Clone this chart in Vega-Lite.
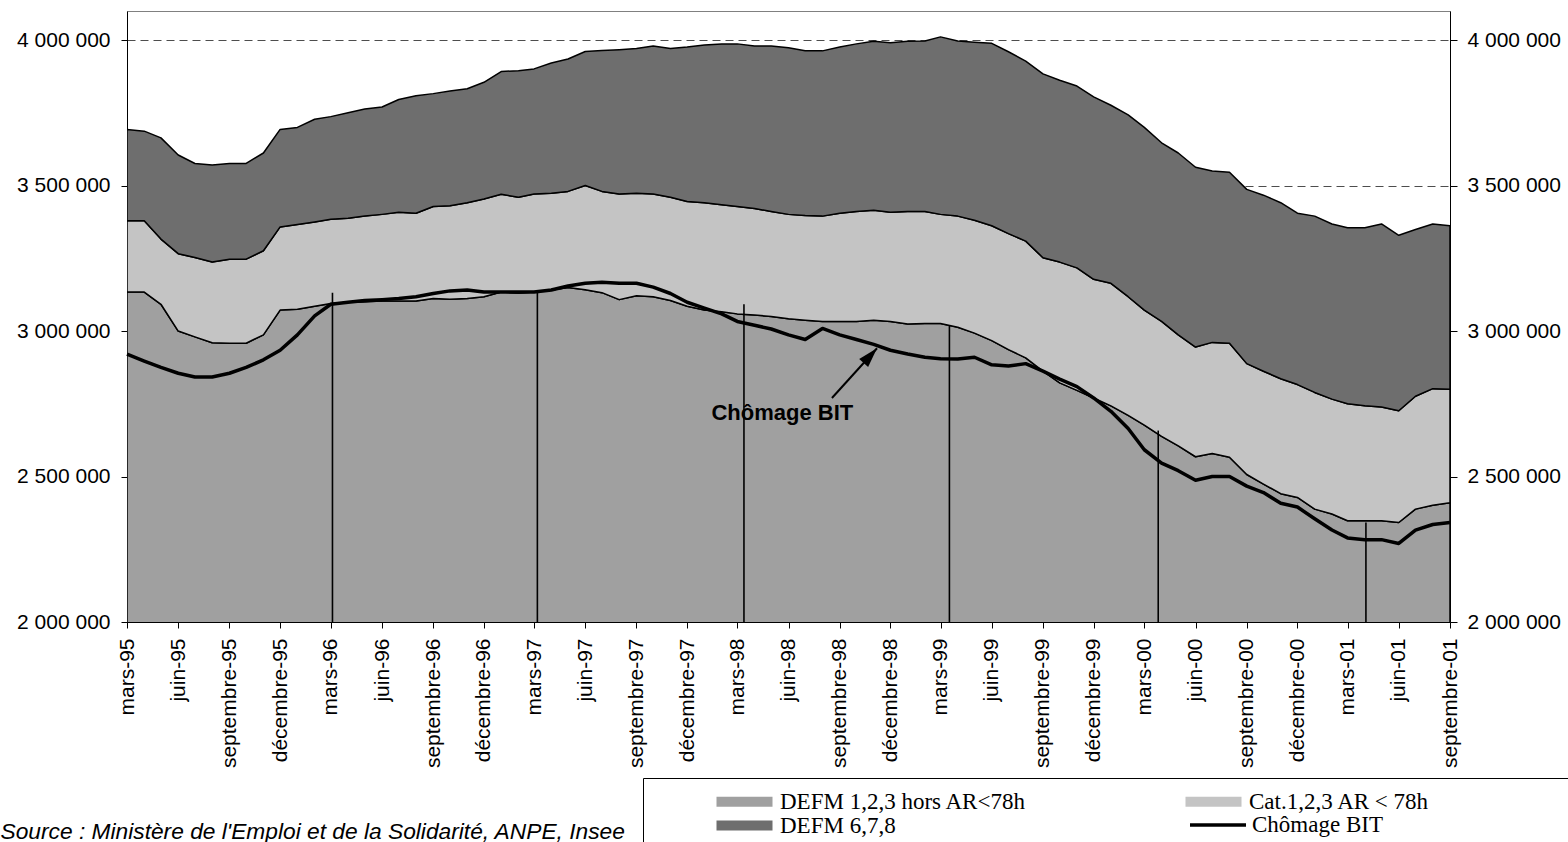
{
  "$schema": "https://vega.github.io/schema/vega-lite/v6.json",
  "width": 1323,
  "height": 611,
  "autosize": {"type": "none"},
  "padding": {"left": 127, "top": 11, "right": 118, "bottom": 220},
  "background": "white",
  "config": {
    "view": {"stroke": "#808080", "strokeWidth": 1},
    "font": "Liberation Sans"
  },
  "datasets": {
    "aires": [
      {"d":"1995-03-01","serie":"DEFM 1,2,3 hors AR<78h","rang":1,"v":3134000},
      {"d":"1995-04-01","serie":"DEFM 1,2,3 hors AR<78h","rang":1,"v":3134000},
      {"d":"1995-05-01","serie":"DEFM 1,2,3 hors AR<78h","rang":1,"v":3092000},
      {"d":"1995-06-01","serie":"DEFM 1,2,3 hors AR<78h","rang":1,"v":3000000},
      {"d":"1995-07-01","serie":"DEFM 1,2,3 hors AR<78h","rang":1,"v":2980000},
      {"d":"1995-08-01","serie":"DEFM 1,2,3 hors AR<78h","rang":1,"v":2960000},
      {"d":"1995-09-01","serie":"DEFM 1,2,3 hors AR<78h","rang":1,"v":2958000},
      {"d":"1995-10-01","serie":"DEFM 1,2,3 hors AR<78h","rang":1,"v":2958000},
      {"d":"1995-11-01","serie":"DEFM 1,2,3 hors AR<78h","rang":1,"v":2987000},
      {"d":"1995-12-01","serie":"DEFM 1,2,3 hors AR<78h","rang":1,"v":3072000},
      {"d":"1996-01-01","serie":"DEFM 1,2,3 hors AR<78h","rang":1,"v":3075000},
      {"d":"1996-02-01","serie":"DEFM 1,2,3 hors AR<78h","rang":1,"v":3085000},
      {"d":"1996-03-01","serie":"DEFM 1,2,3 hors AR<78h","rang":1,"v":3095000},
      {"d":"1996-04-01","serie":"DEFM 1,2,3 hors AR<78h","rang":1,"v":3099000},
      {"d":"1996-05-01","serie":"DEFM 1,2,3 hors AR<78h","rang":1,"v":3101000},
      {"d":"1996-06-01","serie":"DEFM 1,2,3 hors AR<78h","rang":1,"v":3103000},
      {"d":"1996-07-01","serie":"DEFM 1,2,3 hors AR<78h","rang":1,"v":3103000},
      {"d":"1996-08-01","serie":"DEFM 1,2,3 hors AR<78h","rang":1,"v":3103000},
      {"d":"1996-09-01","serie":"DEFM 1,2,3 hors AR<78h","rang":1,"v":3112000},
      {"d":"1996-10-01","serie":"DEFM 1,2,3 hors AR<78h","rang":1,"v":3109000},
      {"d":"1996-11-01","serie":"DEFM 1,2,3 hors AR<78h","rang":1,"v":3112000},
      {"d":"1996-12-01","serie":"DEFM 1,2,3 hors AR<78h","rang":1,"v":3118000},
      {"d":"1997-01-01","serie":"DEFM 1,2,3 hors AR<78h","rang":1,"v":3134000},
      {"d":"1997-02-01","serie":"DEFM 1,2,3 hors AR<78h","rang":1,"v":3131000},
      {"d":"1997-03-01","serie":"DEFM 1,2,3 hors AR<78h","rang":1,"v":3134000},
      {"d":"1997-04-01","serie":"DEFM 1,2,3 hors AR<78h","rang":1,"v":3141000},
      {"d":"1997-05-01","serie":"DEFM 1,2,3 hors AR<78h","rang":1,"v":3150000},
      {"d":"1997-06-01","serie":"DEFM 1,2,3 hors AR<78h","rang":1,"v":3142000},
      {"d":"1997-07-01","serie":"DEFM 1,2,3 hors AR<78h","rang":1,"v":3132000},
      {"d":"1997-08-01","serie":"DEFM 1,2,3 hors AR<78h","rang":1,"v":3108000},
      {"d":"1997-09-01","serie":"DEFM 1,2,3 hors AR<78h","rang":1,"v":3121000},
      {"d":"1997-10-01","serie":"DEFM 1,2,3 hors AR<78h","rang":1,"v":3118000},
      {"d":"1997-11-01","serie":"DEFM 1,2,3 hors AR<78h","rang":1,"v":3105000},
      {"d":"1997-12-01","serie":"DEFM 1,2,3 hors AR<78h","rang":1,"v":3085000},
      {"d":"1998-01-01","serie":"DEFM 1,2,3 hors AR<78h","rang":1,"v":3072000},
      {"d":"1998-02-01","serie":"DEFM 1,2,3 hors AR<78h","rang":1,"v":3066000},
      {"d":"1998-03-01","serie":"DEFM 1,2,3 hors AR<78h","rang":1,"v":3059000},
      {"d":"1998-04-01","serie":"DEFM 1,2,3 hors AR<78h","rang":1,"v":3055000},
      {"d":"1998-05-01","serie":"DEFM 1,2,3 hors AR<78h","rang":1,"v":3050000},
      {"d":"1998-06-01","serie":"DEFM 1,2,3 hors AR<78h","rang":1,"v":3042000},
      {"d":"1998-07-01","serie":"DEFM 1,2,3 hors AR<78h","rang":1,"v":3037000},
      {"d":"1998-08-01","serie":"DEFM 1,2,3 hors AR<78h","rang":1,"v":3033000},
      {"d":"1998-09-01","serie":"DEFM 1,2,3 hors AR<78h","rang":1,"v":3033000},
      {"d":"1998-10-01","serie":"DEFM 1,2,3 hors AR<78h","rang":1,"v":3033000},
      {"d":"1998-11-01","serie":"DEFM 1,2,3 hors AR<78h","rang":1,"v":3037000},
      {"d":"1998-12-01","serie":"DEFM 1,2,3 hors AR<78h","rang":1,"v":3033000},
      {"d":"1999-01-01","serie":"DEFM 1,2,3 hors AR<78h","rang":1,"v":3024000},
      {"d":"1999-02-01","serie":"DEFM 1,2,3 hors AR<78h","rang":1,"v":3026000},
      {"d":"1999-03-01","serie":"DEFM 1,2,3 hors AR<78h","rang":1,"v":3026000},
      {"d":"1999-04-01","serie":"DEFM 1,2,3 hors AR<78h","rang":1,"v":3013000},
      {"d":"1999-05-01","serie":"DEFM 1,2,3 hors AR<78h","rang":1,"v":2993000},
      {"d":"1999-06-01","serie":"DEFM 1,2,3 hors AR<78h","rang":1,"v":2967000},
      {"d":"1999-07-01","serie":"DEFM 1,2,3 hors AR<78h","rang":1,"v":2936000},
      {"d":"1999-08-01","serie":"DEFM 1,2,3 hors AR<78h","rang":1,"v":2908000},
      {"d":"1999-09-01","serie":"DEFM 1,2,3 hors AR<78h","rang":1,"v":2862000},
      {"d":"1999-10-01","serie":"DEFM 1,2,3 hors AR<78h","rang":1,"v":2822000},
      {"d":"1999-11-01","serie":"DEFM 1,2,3 hors AR<78h","rang":1,"v":2796000},
      {"d":"1999-12-01","serie":"DEFM 1,2,3 hors AR<78h","rang":1,"v":2770000},
      {"d":"2000-01-01","serie":"DEFM 1,2,3 hors AR<78h","rang":1,"v":2743000},
      {"d":"2000-02-01","serie":"DEFM 1,2,3 hors AR<78h","rang":1,"v":2710000},
      {"d":"2000-03-01","serie":"DEFM 1,2,3 hors AR<78h","rang":1,"v":2677000},
      {"d":"2000-04-01","serie":"DEFM 1,2,3 hors AR<78h","rang":1,"v":2638000},
      {"d":"2000-05-01","serie":"DEFM 1,2,3 hors AR<78h","rang":1,"v":2605000},
      {"d":"2000-06-01","serie":"DEFM 1,2,3 hors AR<78h","rang":1,"v":2568000},
      {"d":"2000-07-01","serie":"DEFM 1,2,3 hors AR<78h","rang":1,"v":2579000},
      {"d":"2000-08-01","serie":"DEFM 1,2,3 hors AR<78h","rang":1,"v":2566000},
      {"d":"2000-09-01","serie":"DEFM 1,2,3 hors AR<78h","rang":1,"v":2507000},
      {"d":"2000-10-01","serie":"DEFM 1,2,3 hors AR<78h","rang":1,"v":2474000},
      {"d":"2000-11-01","serie":"DEFM 1,2,3 hors AR<78h","rang":1,"v":2441000},
      {"d":"2000-12-01","serie":"DEFM 1,2,3 hors AR<78h","rang":1,"v":2428000},
      {"d":"2001-01-01","serie":"DEFM 1,2,3 hors AR<78h","rang":1,"v":2388000},
      {"d":"2001-02-01","serie":"DEFM 1,2,3 hors AR<78h","rang":1,"v":2371000},
      {"d":"2001-03-01","serie":"DEFM 1,2,3 hors AR<78h","rang":1,"v":2348000},
      {"d":"2001-04-01","serie":"DEFM 1,2,3 hors AR<78h","rang":1,"v":2348000},
      {"d":"2001-05-01","serie":"DEFM 1,2,3 hors AR<78h","rang":1,"v":2348000},
      {"d":"2001-06-01","serie":"DEFM 1,2,3 hors AR<78h","rang":1,"v":2342000},
      {"d":"2001-07-01","serie":"DEFM 1,2,3 hors AR<78h","rang":1,"v":2388000},
      {"d":"2001-08-01","serie":"DEFM 1,2,3 hors AR<78h","rang":1,"v":2401000},
      {"d":"2001-09-01","serie":"DEFM 1,2,3 hors AR<78h","rang":1,"v":2410000},

      {"d":"1995-03-01","serie":"Cat.1,2,3 AR < 78h","rang":2,"v":245000},
      {"d":"1995-04-01","serie":"Cat.1,2,3 AR < 78h","rang":2,"v":245000},
      {"d":"1995-05-01","serie":"Cat.1,2,3 AR < 78h","rang":2,"v":224000},
      {"d":"1995-06-01","serie":"Cat.1,2,3 AR < 78h","rang":2,"v":266000},
      {"d":"1995-07-01","serie":"Cat.1,2,3 AR < 78h","rang":2,"v":273000},
      {"d":"1995-08-01","serie":"Cat.1,2,3 AR < 78h","rang":2,"v":277000},
      {"d":"1995-09-01","serie":"Cat.1,2,3 AR < 78h","rang":2,"v":289000},
      {"d":"1995-10-01","serie":"Cat.1,2,3 AR < 78h","rang":2,"v":289000},
      {"d":"1995-11-01","serie":"Cat.1,2,3 AR < 78h","rang":2,"v":289000},
      {"d":"1995-12-01","serie":"Cat.1,2,3 AR < 78h","rang":2,"v":286000},
      {"d":"1996-01-01","serie":"Cat.1,2,3 AR < 78h","rang":2,"v":291000},
      {"d":"1996-02-01","serie":"Cat.1,2,3 AR < 78h","rang":2,"v":290000},
      {"d":"1996-03-01","serie":"Cat.1,2,3 AR < 78h","rang":2,"v":289000},
      {"d":"1996-04-01","serie":"Cat.1,2,3 AR < 78h","rang":2,"v":289000},
      {"d":"1996-05-01","serie":"Cat.1,2,3 AR < 78h","rang":2,"v":294000},
      {"d":"1996-06-01","serie":"Cat.1,2,3 AR < 78h","rang":2,"v":298000},
      {"d":"1996-07-01","serie":"Cat.1,2,3 AR < 78h","rang":2,"v":305000},
      {"d":"1996-08-01","serie":"Cat.1,2,3 AR < 78h","rang":2,"v":302000},
      {"d":"1996-09-01","serie":"Cat.1,2,3 AR < 78h","rang":2,"v":316000},
      {"d":"1996-10-01","serie":"Cat.1,2,3 AR < 78h","rang":2,"v":322000},
      {"d":"1996-11-01","serie":"Cat.1,2,3 AR < 78h","rang":2,"v":329000},
      {"d":"1996-12-01","serie":"Cat.1,2,3 AR < 78h","rang":2,"v":336000},
      {"d":"1997-01-01","serie":"Cat.1,2,3 AR < 78h","rang":2,"v":336000},
      {"d":"1997-02-01","serie":"Cat.1,2,3 AR < 78h","rang":2,"v":329000},
      {"d":"1997-03-01","serie":"Cat.1,2,3 AR < 78h","rang":2,"v":337000},
      {"d":"1997-04-01","serie":"Cat.1,2,3 AR < 78h","rang":2,"v":333000},
      {"d":"1997-05-01","serie":"Cat.1,2,3 AR < 78h","rang":2,"v":330000},
      {"d":"1997-06-01","serie":"Cat.1,2,3 AR < 78h","rang":2,"v":358000},
      {"d":"1997-07-01","serie":"Cat.1,2,3 AR < 78h","rang":2,"v":348000},
      {"d":"1997-08-01","serie":"Cat.1,2,3 AR < 78h","rang":2,"v":363000},
      {"d":"1997-09-01","serie":"Cat.1,2,3 AR < 78h","rang":2,"v":353000},
      {"d":"1997-10-01","serie":"Cat.1,2,3 AR < 78h","rang":2,"v":353000},
      {"d":"1997-11-01","serie":"Cat.1,2,3 AR < 78h","rang":2,"v":355000},
      {"d":"1997-12-01","serie":"Cat.1,2,3 AR < 78h","rang":2,"v":360000},
      {"d":"1998-01-01","serie":"Cat.1,2,3 AR < 78h","rang":2,"v":369000},
      {"d":"1998-02-01","serie":"Cat.1,2,3 AR < 78h","rang":2,"v":368000},
      {"d":"1998-03-01","serie":"Cat.1,2,3 AR < 78h","rang":2,"v":369000},
      {"d":"1998-04-01","serie":"Cat.1,2,3 AR < 78h","rang":2,"v":366000},
      {"d":"1998-05-01","serie":"Cat.1,2,3 AR < 78h","rang":2,"v":361000},
      {"d":"1998-06-01","serie":"Cat.1,2,3 AR < 78h","rang":2,"v":359000},
      {"d":"1998-07-01","serie":"Cat.1,2,3 AR < 78h","rang":2,"v":360000},
      {"d":"1998-08-01","serie":"Cat.1,2,3 AR < 78h","rang":2,"v":362000},
      {"d":"1998-09-01","serie":"Cat.1,2,3 AR < 78h","rang":2,"v":372000},
      {"d":"1998-10-01","serie":"Cat.1,2,3 AR < 78h","rang":2,"v":378000},
      {"d":"1998-11-01","serie":"Cat.1,2,3 AR < 78h","rang":2,"v":378000},
      {"d":"1998-12-01","serie":"Cat.1,2,3 AR < 78h","rang":2,"v":375000},
      {"d":"1999-01-01","serie":"Cat.1,2,3 AR < 78h","rang":2,"v":387000},
      {"d":"1999-02-01","serie":"Cat.1,2,3 AR < 78h","rang":2,"v":385000},
      {"d":"1999-03-01","serie":"Cat.1,2,3 AR < 78h","rang":2,"v":375000},
      {"d":"1999-04-01","serie":"Cat.1,2,3 AR < 78h","rang":2,"v":382000},
      {"d":"1999-05-01","serie":"Cat.1,2,3 AR < 78h","rang":2,"v":388000},
      {"d":"1999-06-01","serie":"Cat.1,2,3 AR < 78h","rang":2,"v":395000},
      {"d":"1999-07-01","serie":"Cat.1,2,3 AR < 78h","rang":2,"v":399000},
      {"d":"1999-08-01","serie":"Cat.1,2,3 AR < 78h","rang":2,"v":401000},
      {"d":"1999-09-01","serie":"Cat.1,2,3 AR < 78h","rang":2,"v":390000},
      {"d":"1999-10-01","serie":"Cat.1,2,3 AR < 78h","rang":2,"v":415000},
      {"d":"1999-11-01","serie":"Cat.1,2,3 AR < 78h","rang":2,"v":421000},
      {"d":"1999-12-01","serie":"Cat.1,2,3 AR < 78h","rang":2,"v":408000},
      {"d":"2000-01-01","serie":"Cat.1,2,3 AR < 78h","rang":2,"v":421000},
      {"d":"2000-02-01","serie":"Cat.1,2,3 AR < 78h","rang":2,"v":408000},
      {"d":"2000-03-01","serie":"Cat.1,2,3 AR < 78h","rang":2,"v":395000},
      {"d":"2000-04-01","serie":"Cat.1,2,3 AR < 78h","rang":2,"v":395000},
      {"d":"2000-05-01","serie":"Cat.1,2,3 AR < 78h","rang":2,"v":382000},
      {"d":"2000-06-01","serie":"Cat.1,2,3 AR < 78h","rang":2,"v":377000},
      {"d":"2000-07-01","serie":"Cat.1,2,3 AR < 78h","rang":2,"v":382000},
      {"d":"2000-08-01","serie":"Cat.1,2,3 AR < 78h","rang":2,"v":392000},
      {"d":"2000-09-01","serie":"Cat.1,2,3 AR < 78h","rang":2,"v":381000},
      {"d":"2000-10-01","serie":"Cat.1,2,3 AR < 78h","rang":2,"v":388000},
      {"d":"2000-11-01","serie":"Cat.1,2,3 AR < 78h","rang":2,"v":395000},
      {"d":"2000-12-01","serie":"Cat.1,2,3 AR < 78h","rang":2,"v":388000},
      {"d":"2001-01-01","serie":"Cat.1,2,3 AR < 78h","rang":2,"v":401000},
      {"d":"2001-02-01","serie":"Cat.1,2,3 AR < 78h","rang":2,"v":395000},
      {"d":"2001-03-01","serie":"Cat.1,2,3 AR < 78h","rang":2,"v":402000},
      {"d":"2001-04-01","serie":"Cat.1,2,3 AR < 78h","rang":2,"v":395000},
      {"d":"2001-05-01","serie":"Cat.1,2,3 AR < 78h","rang":2,"v":391000},
      {"d":"2001-06-01","serie":"Cat.1,2,3 AR < 78h","rang":2,"v":384000},
      {"d":"2001-07-01","serie":"Cat.1,2,3 AR < 78h","rang":2,"v":388000},
      {"d":"2001-08-01","serie":"Cat.1,2,3 AR < 78h","rang":2,"v":401000},
      {"d":"2001-09-01","serie":"Cat.1,2,3 AR < 78h","rang":2,"v":390000},

      {"d":"1995-03-01","serie":"DEFM 6,7,8","rang":3,"v":314000},
      {"d":"1995-04-01","serie":"DEFM 6,7,8","rang":3,"v":308000},
      {"d":"1995-05-01","serie":"DEFM 6,7,8","rang":3,"v":348000},
      {"d":"1995-06-01","serie":"DEFM 6,7,8","rang":3,"v":339000},
      {"d":"1995-07-01","serie":"DEFM 6,7,8","rang":3,"v":323000},
      {"d":"1995-08-01","serie":"DEFM 6,7,8","rang":3,"v":334000},
      {"d":"1995-09-01","serie":"DEFM 6,7,8","rang":3,"v":329000},
      {"d":"1995-10-01","serie":"DEFM 6,7,8","rang":3,"v":329000},
      {"d":"1995-11-01","serie":"DEFM 6,7,8","rang":3,"v":336000},
      {"d":"1995-12-01","serie":"DEFM 6,7,8","rang":3,"v":335000},
      {"d":"1996-01-01","serie":"DEFM 6,7,8","rang":3,"v":334000},
      {"d":"1996-02-01","serie":"DEFM 6,7,8","rang":3,"v":353000},
      {"d":"1996-03-01","serie":"DEFM 6,7,8","rang":3,"v":353000},
      {"d":"1996-04-01","serie":"DEFM 6,7,8","rang":3,"v":362000},
      {"d":"1996-05-01","serie":"DEFM 6,7,8","rang":3,"v":368000},
      {"d":"1996-06-01","serie":"DEFM 6,7,8","rang":3,"v":369000},
      {"d":"1996-07-01","serie":"DEFM 6,7,8","rang":3,"v":388000},
      {"d":"1996-08-01","serie":"DEFM 6,7,8","rang":3,"v":404000},
      {"d":"1996-09-01","serie":"DEFM 6,7,8","rang":3,"v":388000},
      {"d":"1996-10-01","serie":"DEFM 6,7,8","rang":3,"v":394000},
      {"d":"1996-11-01","serie":"DEFM 6,7,8","rang":3,"v":392000},
      {"d":"1996-12-01","serie":"DEFM 6,7,8","rang":3,"v":401000},
      {"d":"1997-01-01","serie":"DEFM 6,7,8","rang":3,"v":422000},
      {"d":"1997-02-01","serie":"DEFM 6,7,8","rang":3,"v":435000},
      {"d":"1997-03-01","serie":"DEFM 6,7,8","rang":3,"v":430000},
      {"d":"1997-04-01","serie":"DEFM 6,7,8","rang":3,"v":447000},
      {"d":"1997-05-01","serie":"DEFM 6,7,8","rang":3,"v":455000},
      {"d":"1997-06-01","serie":"DEFM 6,7,8","rang":3,"v":461000},
      {"d":"1997-07-01","serie":"DEFM 6,7,8","rang":3,"v":484000},
      {"d":"1997-08-01","serie":"DEFM 6,7,8","rang":3,"v":496000},
      {"d":"1997-09-01","serie":"DEFM 6,7,8","rang":3,"v":497000},
      {"d":"1997-10-01","serie":"DEFM 6,7,8","rang":3,"v":509000},
      {"d":"1997-11-01","serie":"DEFM 6,7,8","rang":3,"v":511000},
      {"d":"1997-12-01","serie":"DEFM 6,7,8","rang":3,"v":531000},
      {"d":"1998-01-01","serie":"DEFM 6,7,8","rang":3,"v":542000},
      {"d":"1998-02-01","serie":"DEFM 6,7,8","rang":3,"v":553000},
      {"d":"1998-03-01","serie":"DEFM 6,7,8","rang":3,"v":559000},
      {"d":"1998-04-01","serie":"DEFM 6,7,8","rang":3,"v":559000},
      {"d":"1998-05-01","serie":"DEFM 6,7,8","rang":3,"v":569000},
      {"d":"1998-06-01","serie":"DEFM 6,7,8","rang":3,"v":573000},
      {"d":"1998-07-01","serie":"DEFM 6,7,8","rang":3,"v":566000},
      {"d":"1998-08-01","serie":"DEFM 6,7,8","rang":3,"v":568000},
      {"d":"1998-09-01","serie":"DEFM 6,7,8","rang":3,"v":571000},
      {"d":"1998-10-01","serie":"DEFM 6,7,8","rang":3,"v":576000},
      {"d":"1998-11-01","serie":"DEFM 6,7,8","rang":3,"v":581000},
      {"d":"1998-12-01","serie":"DEFM 6,7,8","rang":3,"v":583000},
      {"d":"1999-01-01","serie":"DEFM 6,7,8","rang":3,"v":585000},
      {"d":"1999-02-01","serie":"DEFM 6,7,8","rang":3,"v":586000},
      {"d":"1999-03-01","serie":"DEFM 6,7,8","rang":3,"v":610000},
      {"d":"1999-04-01","serie":"DEFM 6,7,8","rang":3,"v":602000},
      {"d":"1999-05-01","serie":"DEFM 6,7,8","rang":3,"v":612000},
      {"d":"1999-06-01","serie":"DEFM 6,7,8","rang":3,"v":627000},
      {"d":"1999-07-01","serie":"DEFM 6,7,8","rang":3,"v":625000},
      {"d":"1999-08-01","serie":"DEFM 6,7,8","rang":3,"v":619000},
      {"d":"1999-09-01","serie":"DEFM 6,7,8","rang":3,"v":632000},
      {"d":"1999-10-01","serie":"DEFM 6,7,8","rang":3,"v":625000},
      {"d":"1999-11-01","serie":"DEFM 6,7,8","rang":3,"v":625000},
      {"d":"1999-12-01","serie":"DEFM 6,7,8","rang":3,"v":627000},
      {"d":"2000-01-01","serie":"DEFM 6,7,8","rang":3,"v":612000},
      {"d":"2000-02-01","serie":"DEFM 6,7,8","rang":3,"v":625000},
      {"d":"2000-03-01","serie":"DEFM 6,7,8","rang":3,"v":628000},
      {"d":"2000-04-01","serie":"DEFM 6,7,8","rang":3,"v":614000},
      {"d":"2000-05-01","serie":"DEFM 6,7,8","rang":3,"v":625000},
      {"d":"2000-06-01","serie":"DEFM 6,7,8","rang":3,"v":618000},
      {"d":"2000-07-01","serie":"DEFM 6,7,8","rang":3,"v":589000},
      {"d":"2000-08-01","serie":"DEFM 6,7,8","rang":3,"v":588000},
      {"d":"2000-09-01","serie":"DEFM 6,7,8","rang":3,"v":599000},
      {"d":"2000-10-01","serie":"DEFM 6,7,8","rang":3,"v":605000},
      {"d":"2000-11-01","serie":"DEFM 6,7,8","rang":3,"v":605000},
      {"d":"2000-12-01","serie":"DEFM 6,7,8","rang":3,"v":589000},
      {"d":"2001-01-01","serie":"DEFM 6,7,8","rang":3,"v":606000},
      {"d":"2001-02-01","serie":"DEFM 6,7,8","rang":3,"v":602000},
      {"d":"2001-03-01","serie":"DEFM 6,7,8","rang":3,"v":605000},
      {"d":"2001-04-01","serie":"DEFM 6,7,8","rang":3,"v":612000},
      {"d":"2001-05-01","serie":"DEFM 6,7,8","rang":3,"v":629000},
      {"d":"2001-06-01","serie":"DEFM 6,7,8","rang":3,"v":603000},
      {"d":"2001-07-01","serie":"DEFM 6,7,8","rang":3,"v":573000},
      {"d":"2001-08-01","serie":"DEFM 6,7,8","rang":3,"v":566000},
      {"d":"2001-09-01","serie":"DEFM 6,7,8","rang":3,"v":562000}
    ],
    "bit": [
      {"d":"1995-03-01","serie":"Chômage BIT","v":2921000},
      {"d":"1995-04-01","serie":"Chômage BIT","v":2897000},
      {"d":"1995-05-01","serie":"Chômage BIT","v":2875000},
      {"d":"1995-06-01","serie":"Chômage BIT","v":2855000},
      {"d":"1995-07-01","serie":"Chômage BIT","v":2842000},
      {"d":"1995-08-01","serie":"Chômage BIT","v":2842000},
      {"d":"1995-09-01","serie":"Chômage BIT","v":2855000},
      {"d":"1995-10-01","serie":"Chômage BIT","v":2875000},
      {"d":"1995-11-01","serie":"Chômage BIT","v":2901000},
      {"d":"1995-12-01","serie":"Chômage BIT","v":2934000},
      {"d":"1996-01-01","serie":"Chômage BIT","v":2987000},
      {"d":"1996-02-01","serie":"Chômage BIT","v":3052000},
      {"d":"1996-03-01","serie":"Chômage BIT","v":3092000},
      {"d":"1996-04-01","serie":"Chômage BIT","v":3099000},
      {"d":"1996-05-01","serie":"Chômage BIT","v":3105000},
      {"d":"1996-06-01","serie":"Chômage BIT","v":3108000},
      {"d":"1996-07-01","serie":"Chômage BIT","v":3112000},
      {"d":"1996-08-01","serie":"Chômage BIT","v":3118000},
      {"d":"1996-09-01","serie":"Chômage BIT","v":3129000},
      {"d":"1996-10-01","serie":"Chômage BIT","v":3138000},
      {"d":"1996-11-01","serie":"Chômage BIT","v":3141000},
      {"d":"1996-12-01","serie":"Chômage BIT","v":3134000},
      {"d":"1997-01-01","serie":"Chômage BIT","v":3134000},
      {"d":"1997-02-01","serie":"Chômage BIT","v":3134000},
      {"d":"1997-03-01","serie":"Chômage BIT","v":3134000},
      {"d":"1997-04-01","serie":"Chômage BIT","v":3141000},
      {"d":"1997-05-01","serie":"Chômage BIT","v":3155000},
      {"d":"1997-06-01","serie":"Chômage BIT","v":3164000},
      {"d":"1997-07-01","serie":"Chômage BIT","v":3168000},
      {"d":"1997-08-01","serie":"Chômage BIT","v":3164000},
      {"d":"1997-09-01","serie":"Chômage BIT","v":3164000},
      {"d":"1997-10-01","serie":"Chômage BIT","v":3151000},
      {"d":"1997-11-01","serie":"Chômage BIT","v":3129000},
      {"d":"1997-12-01","serie":"Chômage BIT","v":3099000},
      {"d":"1998-01-01","serie":"Chômage BIT","v":3079000},
      {"d":"1998-02-01","serie":"Chômage BIT","v":3059000},
      {"d":"1998-03-01","serie":"Chômage BIT","v":3033000},
      {"d":"1998-04-01","serie":"Chômage BIT","v":3020000},
      {"d":"1998-05-01","serie":"Chômage BIT","v":3007000},
      {"d":"1998-06-01","serie":"Chômage BIT","v":2987000},
      {"d":"1998-07-01","serie":"Chômage BIT","v":2971000},
      {"d":"1998-08-01","serie":"Chômage BIT","v":3009000},
      {"d":"1998-09-01","serie":"Chômage BIT","v":2987000},
      {"d":"1998-10-01","serie":"Chômage BIT","v":2971000},
      {"d":"1998-11-01","serie":"Chômage BIT","v":2954000},
      {"d":"1998-12-01","serie":"Chômage BIT","v":2934000},
      {"d":"1999-01-01","serie":"Chômage BIT","v":2921000},
      {"d":"1999-02-01","serie":"Chômage BIT","v":2910000},
      {"d":"1999-03-01","serie":"Chômage BIT","v":2905000},
      {"d":"1999-04-01","serie":"Chômage BIT","v":2904000},
      {"d":"1999-05-01","serie":"Chômage BIT","v":2910000},
      {"d":"1999-06-01","serie":"Chômage BIT","v":2884000},
      {"d":"1999-07-01","serie":"Chômage BIT","v":2880000},
      {"d":"1999-08-01","serie":"Chômage BIT","v":2888000},
      {"d":"1999-09-01","serie":"Chômage BIT","v":2862000},
      {"d":"1999-10-01","serie":"Chômage BIT","v":2835000},
      {"d":"1999-11-01","serie":"Chômage BIT","v":2809000},
      {"d":"1999-12-01","serie":"Chômage BIT","v":2770000},
      {"d":"2000-01-01","serie":"Chômage BIT","v":2724000},
      {"d":"2000-02-01","serie":"Chômage BIT","v":2665000},
      {"d":"2000-03-01","serie":"Chômage BIT","v":2592000},
      {"d":"2000-04-01","serie":"Chômage BIT","v":2546000},
      {"d":"2000-05-01","serie":"Chômage BIT","v":2520000},
      {"d":"2000-06-01","serie":"Chômage BIT","v":2487000},
      {"d":"2000-07-01","serie":"Chômage BIT","v":2500000},
      {"d":"2000-08-01","serie":"Chômage BIT","v":2500000},
      {"d":"2000-09-01","serie":"Chômage BIT","v":2467000},
      {"d":"2000-10-01","serie":"Chômage BIT","v":2445000},
      {"d":"2000-11-01","serie":"Chômage BIT","v":2408000},
      {"d":"2000-12-01","serie":"Chômage BIT","v":2395000},
      {"d":"2001-01-01","serie":"Chômage BIT","v":2355000},
      {"d":"2001-02-01","serie":"Chômage BIT","v":2316000},
      {"d":"2001-03-01","serie":"Chômage BIT","v":2289000},
      {"d":"2001-04-01","serie":"Chômage BIT","v":2283000},
      {"d":"2001-05-01","serie":"Chômage BIT","v":2283000},
      {"d":"2001-06-01","serie":"Chômage BIT","v":2270000},
      {"d":"2001-07-01","serie":"Chômage BIT","v":2316000},
      {"d":"2001-08-01","serie":"Chômage BIT","v":2335000},
      {"d":"2001-09-01","serie":"Chômage BIT","v":2342000}
    ],
    "enquetes": [
      {"d":"1996-03-04","v":3132000},
      {"d":"1997-03-07","v":3134000},
      {"d":"1998-03-13","v":3092000},
      {"d":"1999-03-17","v":3020000},
      {"d":"2000-03-26","v":2658000},
      {"d":"2001-04-03","v":2342000}
    ],
    "fleche": [
      {"d":"1998-08-18","v":2770000,"d2":"1998-11-07","v2":2941000}
    ],
    "note": [
      {"d":"1998-05-21","v":2717000,"texte":"Chômage BIT"}
    ]
  },
  "layer": [
    {
      "layer": [
        {
          "data": {"name": "aires"},
          "mark": {"type": "area", "clip": true, "opacity": 1, "stroke": "black", "strokeWidth": 1.5, "strokeJoin": "round"},
          "encoding": {
            "x": {
              "field": "d", "type": "temporal",
              "scale": {"type": "utc", "domain": [{"year":1995,"month":3,"date":1,"utc":true},{"year":2001,"month":9,"date":1,"utc":true}], "nice": false},
              "axis": {
                "title": "Source : Ministère de l'Emploi et de la Solidarité, ANPE, Insee",
                "titleX": -127,
                "titleY": 216,
                "titleAlign": "left",
                "titleAnchor": "start",
                "titleBaseline": "alphabetic",
                "titleFont": "Liberation Sans",
                "titleFontSize": 22.75,
                "titleFontStyle": "italic",
                "titleFontWeight": "normal",
                "titleColor": "black",
                "values": [
                  {"year":1995,"month":3,"date":1,"utc":true},{"year":1995,"month":6,"date":1,"utc":true},{"year":1995,"month":9,"date":1,"utc":true},{"year":1995,"month":12,"date":1,"utc":true},
                  {"year":1996,"month":3,"date":1,"utc":true},{"year":1996,"month":6,"date":1,"utc":true},{"year":1996,"month":9,"date":1,"utc":true},{"year":1996,"month":12,"date":1,"utc":true},
                  {"year":1997,"month":3,"date":1,"utc":true},{"year":1997,"month":6,"date":1,"utc":true},{"year":1997,"month":9,"date":1,"utc":true},{"year":1997,"month":12,"date":1,"utc":true},
                  {"year":1998,"month":3,"date":1,"utc":true},{"year":1998,"month":6,"date":1,"utc":true},{"year":1998,"month":9,"date":1,"utc":true},{"year":1998,"month":12,"date":1,"utc":true},
                  {"year":1999,"month":3,"date":1,"utc":true},{"year":1999,"month":6,"date":1,"utc":true},{"year":1999,"month":9,"date":1,"utc":true},{"year":1999,"month":12,"date":1,"utc":true},
                  {"year":2000,"month":3,"date":1,"utc":true},{"year":2000,"month":6,"date":1,"utc":true},{"year":2000,"month":9,"date":1,"utc":true},{"year":2000,"month":12,"date":1,"utc":true},
                  {"year":2001,"month":3,"date":1,"utc":true},{"year":2001,"month":6,"date":1,"utc":true},{"year":2001,"month":9,"date":1,"utc":true}
                ],
                "labelExpr": "['janvier','février','mars','avril','mai','juin','juillet','août','septembre','octobre','novembre','décembre'][utcmonth(datum.value)] + '-' + utcFormat(datum.value, '%y')",
                "labelAngle": 270,
                "labelFont": "Liberation Sans",
                "labelFontSize": 21,
                "labelColor": "black",
                "labelPadding": 10,
                "labelOverlap": false,
                "labelBound": false,
                "labelFlush": false,
                "tickSize": 6,
                "tickColor": "black",
                "domainColor": "black",
                "grid": false
              }
            },
            "y": {
              "field": "v", "type": "quantitative", "stack": "zero",
              "scale": {"domain": [2000000, 4100000], "nice": false, "zero": false},
              "axis": {
                "title": null,
                "orient": "left",
                "values": [2000000, 2500000, 3000000, 3500000, 4000000],
                "labelExpr": "replace(replace(format(datum.value, ','), ',', ' '), ',', ' ')",
                "labelFont": "Liberation Sans",
                "labelFontSize": 21,
                "labelColor": "black",
                "labelPadding": 11,
                "tickSize": 6,
                "tickColor": "black",
                "domainColor": "black",
                "grid": true,
                "gridColor": "#4d4d4d",
                "gridDash": [8, 5],
                "gridWidth": 1
              }
            },
            "order": {"field": "rang", "type": "quantitative"},
            "color": {
              "field": "serie", "type": "nominal",
              "scale": {
                "domain": ["DEFM 1,2,3 hors AR<78h", "DEFM 6,7,8", "Cat.1,2,3 AR < 78h"],
                "range": ["#a0a0a0", "#6e6e6e", "#c4c4c4"]
              },
              "legend": {
                "orient": "none",
                "legendX": 516,
                "legendY": 767,
                "columns": 2,
                "columnPadding": 97,
                "rowPadding": -5,
                "padding": 12,
                "strokeColor": "black",
                "fillColor": "white",
                "cornerRadius": 0,
                "title": " ",
                "titleOrient": "right",
                "titlePadding": 175,
                "symbolType": "M-1,-1H10.2V1H-1Z",
                "symbolSize": 100,
                "symbolOffset": 55,
                "symbolStrokeWidth": 0,
                "symbolOpacity": 1,
                "labelFont": "Liberation Serif",
                "labelFontSize": 23,
                "labelColor": "black",
                "labelOffset": 47,
                "labelLimit": 500
              }
            }
          }
        },
        {
          "data": {"name": "enquetes"},
          "mark": {"type": "rule", "color": "black", "strokeWidth": 1.6},
          "encoding": {
            "x": {"field": "d", "type": "temporal"},
            "y": {"field": "v", "type": "quantitative"},
            "y2": {"datum": 2000000}
          }
        },
        {
          "data": {"name": "fleche"},
          "mark": {"type": "rule", "color": "black", "strokeWidth": 2},
          "encoding": {
            "x": {"field": "d", "type": "temporal"},
            "y": {"field": "v", "type": "quantitative"},
            "x2": {"field": "d2"},
            "y2": {"field": "v2"}
          }
        },
        {
          "data": {"name": "fleche"},
          "mark": {"type": "point", "shape": "M0,0L1.2,4L-1.2,4Z", "filled": true, "size": 100, "angle": 42, "color": "black", "opacity": 1, "strokeWidth": 0},
          "encoding": {
            "x": {"field": "d2", "type": "temporal"},
            "y": {"field": "v2", "type": "quantitative"}
          }
        },
        {
          "data": {"name": "note"},
          "mark": {"type": "text", "font": "Liberation Sans", "fontSize": 22, "fontWeight": "bold", "align": "center", "baseline": "middle", "color": "black"},
          "encoding": {
            "x": {"field": "d", "type": "temporal"},
            "y": {"field": "v", "type": "quantitative"},
            "text": {"field": "texte"}
          }
        }
      ]
    },
    {
      "data": {"name": "bit"},
      "mark": {"type": "line", "strokeWidth": 3.5, "strokeJoin": "round"},
      "encoding": {
        "x": {
          "field": "d", "type": "temporal",
          "axis": {
            "title": "Source : Ministère de l'Emploi et de la Solidarité, ANPE, Insee",
            "titleX": -127,
            "titleY": 216,
            "titleAlign": "left",
            "titleAnchor": "start",
            "titleBaseline": "alphabetic",
            "titleFont": "Liberation Sans",
            "titleFontSize": 22.75,
            "titleFontStyle": "italic",
            "titleFontWeight": "normal",
            "titleColor": "black",
            "values": [
              {"year":1995,"month":3,"date":1,"utc":true},{"year":1995,"month":6,"date":1,"utc":true},{"year":1995,"month":9,"date":1,"utc":true},{"year":1995,"month":12,"date":1,"utc":true},
              {"year":1996,"month":3,"date":1,"utc":true},{"year":1996,"month":6,"date":1,"utc":true},{"year":1996,"month":9,"date":1,"utc":true},{"year":1996,"month":12,"date":1,"utc":true},
              {"year":1997,"month":3,"date":1,"utc":true},{"year":1997,"month":6,"date":1,"utc":true},{"year":1997,"month":9,"date":1,"utc":true},{"year":1997,"month":12,"date":1,"utc":true},
              {"year":1998,"month":3,"date":1,"utc":true},{"year":1998,"month":6,"date":1,"utc":true},{"year":1998,"month":9,"date":1,"utc":true},{"year":1998,"month":12,"date":1,"utc":true},
              {"year":1999,"month":3,"date":1,"utc":true},{"year":1999,"month":6,"date":1,"utc":true},{"year":1999,"month":9,"date":1,"utc":true},{"year":1999,"month":12,"date":1,"utc":true},
              {"year":2000,"month":3,"date":1,"utc":true},{"year":2000,"month":6,"date":1,"utc":true},{"year":2000,"month":9,"date":1,"utc":true},{"year":2000,"month":12,"date":1,"utc":true},
              {"year":2001,"month":3,"date":1,"utc":true},{"year":2001,"month":6,"date":1,"utc":true},{"year":2001,"month":9,"date":1,"utc":true}
            ],
            "labelExpr": "['janvier','février','mars','avril','mai','juin','juillet','août','septembre','octobre','novembre','décembre'][utcmonth(datum.value)] + '-' + utcFormat(datum.value, '%y')",
            "labelAngle": 270,
            "labelFont": "Liberation Sans",
            "labelFontSize": 21,
            "labelColor": "black",
            "labelPadding": 10,
            "labelOverlap": false,
            "labelBound": false,
            "labelFlush": false,
            "tickSize": 6,
            "tickColor": "black",
            "domainColor": "black",
            "grid": false
          }
        },
        "y": {
          "field": "v", "type": "quantitative",
          "scale": {"domain": [2000000, 4100000], "nice": false, "zero": false},
          "axis": {
            "title": null,
            "orient": "right",
            "values": [2000000, 2500000, 3000000, 3500000, 4000000],
            "labelExpr": "replace(replace(format(datum.value, ','), ',', ' '), ',', ' ')",
            "labelFont": "Liberation Sans",
            "labelFontSize": 21,
            "labelColor": "black",
            "labelPadding": 10,
            "tickSize": 7,
            "tickColor": "black",
            "domainColor": "black",
            "grid": false
          }
        },
        "stroke": {
          "field": "serie", "type": "nominal",
          "scale": {"domain": ["Chômage BIT"], "range": ["#000000"]},
          "legend": {
            "orient": "none",
            "legendX": 1061,
            "legendY": 784,
            "padding": 0,
            "title": null,
            "strokeColor": null,
            "fillColor": null,
            "symbolType": "stroke",
            "symbolSize": 3136,
            "symbolStrokeWidth": 3.5,
            "symbolOffset": 0,
            "symbolOpacity": 1,
            "labelFont": "Liberation Serif",
            "labelFontSize": 23,
            "labelColor": "black",
            "labelOffset": 4,
            "labelLimit": 500
          }
        }
      }
    }
  ],
  "resolve": {"scale": {"y": "independent"}}
}
